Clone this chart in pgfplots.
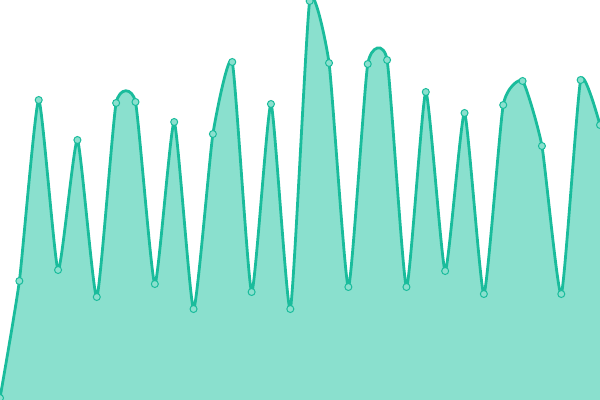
\documentclass[border=0pt]{standalone}
\usepackage{pgfplots}
\pgfplotsset{compat=1.18}
\definecolor{linec}{HTML}{1ABC9C}
\definecolor{fillc}{HTML}{8AE0CE}
\begin{document}
\begin{tikzpicture}
\begin{axis}[
    width=600bp, height=400bp,
    scale only axis,
    hide axis,
    xmin=0, xmax=31,
    ymin=0, ymax=400,
    clip=true,
]
\addplot[fill=fillc, draw=none, smooth, tension=0.3] coordinates {
(0,2) (1,119) (2,300) (3,130) (4,260) (5,103) (6,297) (7,298) (8,116) (9,278)
(10,91) (11,266) (12,338) (13,108) (14,296) (15,91) (16,399) (17,337) (18,113) (19,336)
(20,340) (21,113) (22,308) (23,129) (24,287) (25,106) (26,295) (27,319) (28,254) (29,106)
(30,320) (31,275)
} \closedcycle;
\addplot[linec, line width=2.8bp, smooth, tension=0.3, mark=*, mark size=3.5bp,
    mark options={fill=fillc, draw=linec, line width=1bp}] coordinates {
(0,2) (1,119) (2,300) (3,130) (4,260) (5,103) (6,297) (7,298) (8,116) (9,278)
(10,91) (11,266) (12,338) (13,108) (14,296) (15,91) (16,399) (17,337) (18,113) (19,336)
(20,340) (21,113) (22,308) (23,129) (24,287) (25,106) (26,295) (27,319) (28,254) (29,106)
(30,320) (31,275)
};
\end{axis}
\pgfresetboundingbox
\path (current axis.south west) rectangle (current axis.north east);
\end{tikzpicture}
\end{document}
